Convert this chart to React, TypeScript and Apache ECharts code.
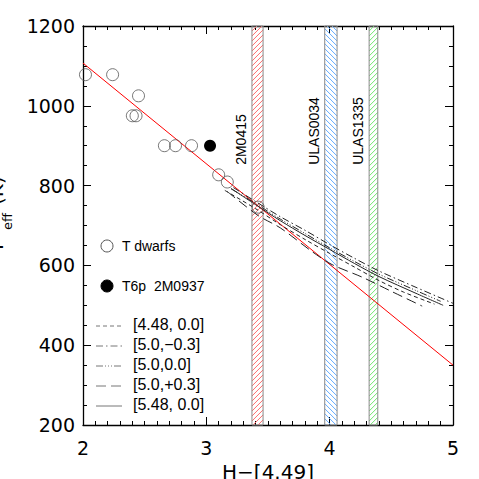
import React, { useEffect, useRef } from "react";
import * as echarts from "echarts";

// ---- data ----
const tDwarfX = [2.02, 2.24, 2.40, 2.43, 2.45, 2.66, 2.75, 2.88, 3.10, 3.17, 3.42];
const tDwarfY = [1078, 1078, 975, 975, 1025, 900, 900, 900, 827, 809, 746];
const t6pX = [3.03];
const t6pY = [900];

const fitX = [2, 5];
const fitY = [1107, 350];

const m448X = [3.15, 3.4, 3.6, 3.8, 4.0, 4.2, 4.4, 4.6, 4.85];
const m448Y = [788, 742, 702, 665, 630, 596, 562, 533, 503];
const m50m03X = [3.22, 3.4, 3.6, 3.8, 4.0, 4.2, 4.4, 4.7, 5.0];
const m50m03Y = [795, 760, 722, 688, 652, 618, 586, 545, 505];
const m50X = [3.2, 3.4, 3.6, 3.8, 4.0, 4.2, 4.4, 4.7, 4.9];
const m50Y = [792, 755, 716, 680, 644, 610, 578, 537, 510];
const m50p03X = [3.17, 3.42, 3.6, 3.86, 4.02, 4.26, 4.5, 4.75];
const m50p03Y = [785, 725, 694, 634, 602, 571, 535, 498];
const m548X = [3.2, 3.4, 3.6, 3.8, 4.0, 4.2, 4.4, 4.7, 4.92];
const m548Y = [793, 752, 712, 675, 640, 605, 572, 530, 500];

const bandNames = ["2M0415", "ULAS0034", "ULAS1335"];
const bandLo = [3.37, 3.96, 4.32];
const bandHi = [3.46, 4.06, 4.39];
const bandLabelT = 852;

const modelNames = ["[4.48, 0.0]", "[5.0,\u22120.3]", "[5.0,0.0]", "[5.0,+0.3]", "[5.48, 0.0]"];

const xTicksMin = 2, xTicksMax = 5;
const yTicksMin = 200, yTicksMax = 1200;

// ---- styles ----
const bandColors = ["#ff7070", "#66adff", "#72e872"];
const bandDirs = [1, -1, 1];
const dashes: (number[] | "solid")[] = [[4, 3], [7, 3, 1.5, 3], [7, 2, 1, 2, 1, 2, 1, 2], [10, 5], "solid"];

const zip = (xs: number[], ys: number[]) => xs.map((x, i) => [x, ys[i]]);

function hatch(x0: number, y0: number, x1: number, y1: number, dir: number, step: number, color: string) {
  const out: any[] = [];
  if (dir > 0) {
    for (let c = x0 + y0; c <= x1 + y1; c += step) {
      const xa = Math.max(x0, c - y1);
      const xb = Math.min(x1, c - y0);
      if (xb > xa) out.push({ type: "line", shape: { x1: xa, y1: c - xa, x2: xb, y2: c - xb }, style: { stroke: color, lineWidth: 1 } });
    }
  } else {
    for (let c = y0 - x1; c <= y1 - x0; c += step) {
      const xa = Math.max(x0, y0 - c);
      const xb = Math.min(x1, y1 - c);
      if (xb > xa) out.push({ type: "line", shape: { x1: xa, y1: xa + c, x2: xb, y2: xb + c }, style: { stroke: color, lineWidth: 1 } });
    }
  }
  return out;
}

export default function App() {
  const ref = useRef<HTMLDivElement>(null);
  useEffect(() => {
    document.body.style.margin = "0";
    const chart = echarts.init(ref.current!, undefined, { renderer: "svg" });
    const axisCommon = {
      axisLine: { show: true, onZero: false, lineStyle: { color: "#000", width: 1.3 } },
      axisTick: { show: true, inside: true, length: 8, lineStyle: { color: "#000", width: 1 } },
      splitLine: { show: false },
      minorSplitLine: { show: false },
    };
    const lbl = { fontSize: 19, fontFamily: "DejaVu Sans", color: "#000", formatter: (v: number) => String(v) };
    const legendY = [326, 346, 366, 386, 406];
    const graphic: any[] = [
      { type: "circle", shape: { cx: 107, cy: 246, r: 6 }, style: { fill: "none", stroke: "#555", lineWidth: 1 } },
      { type: "text", x: 122, y: 246, style: { text: "T dwarfs", fontSize: 14, fontFamily: "Liberation Sans", fill: "#000", textVerticalAlign: "middle" } },
      { type: "circle", shape: { cx: 107, cy: 286, r: 6 }, style: { fill: "#000", stroke: "#000", lineWidth: 1 } },
      { type: "text", x: 122, y: 286, style: { text: "T6p  2M0937", fontSize: 14, fontFamily: "Liberation Sans", fill: "#000", textVerticalAlign: "middle" } },
      // axis titles
      { type: "text", x: 268, y: 462, style: { text: "H\u2212[4.49]", fontSize: 20, fontFamily: "DejaVu Sans", fill: "#000", textAlign: "center", textVerticalAlign: "top" } },
      { type: "text", x: 6, y: 253, rotation: Math.PI / 2, style: { text: "T", fontSize: 20, fontFamily: "DejaVu Sans", fill: "#000", textAlign: "left", textVerticalAlign: "bottom" } },
      { type: "text", x: 14, y: 230, rotation: Math.PI / 2, style: { text: "eff", fontSize: 13, fontFamily: "DejaVu Sans", fill: "#000", textAlign: "left", textVerticalAlign: "bottom" } },
      { type: "text", x: 6, y: 205, rotation: Math.PI / 2, style: { text: "(K)", fontSize: 20, fontFamily: "DejaVu Sans", fill: "#000", textAlign: "left", textVerticalAlign: "bottom" } },
    ];
    modelNames.forEach((n, i) => {
      const d = dashes[i];
      graphic.push({ type: "line", shape: { x1: 96, y1: legendY[i], x2: 122, y2: legendY[i] }, style: { stroke: "#777", lineWidth: 1, lineDash: d === "solid" ? null : d } });
      graphic.push({ type: "text", x: 133, y: legendY[i] - 2, style: { text: n, fontSize: 16, fontFamily: "Liberation Sans", fill: "#000", textVerticalAlign: "middle" } });
    });

    const models = [zip(m448X, m448Y), zip(m50m03X, m50m03Y), zip(m50X, m50Y), zip(m50p03X, m50p03Y), zip(m548X, m548Y)];

    chart.setOption({
      animation: false,
      grid: { left: 83, right: 26, top: 26, bottom: 54 },
      xAxis: [
        { type: "value", min: xTicksMin, max: xTicksMax, interval: 1, position: "bottom", ...axisCommon, minorTick: { show: true, splitNumber: 10, length: 4, lineStyle: { color: "#000" } }, axisLabel: { ...lbl, margin: 13 } },
        { type: "value", min: xTicksMin, max: xTicksMax, interval: 1, position: "top", ...axisCommon, minorTick: { show: true, splitNumber: 10, length: 4, lineStyle: { color: "#000" } }, axisLabel: { show: false } },
      ],
      yAxis: [
        { type: "value", min: yTicksMin, max: yTicksMax, interval: 200, position: "left", ...axisCommon, minorTick: { show: true, splitNumber: 4, length: 4, lineStyle: { color: "#000" } }, axisLabel: { ...lbl, margin: 8 } },
        { type: "value", min: yTicksMin, max: yTicksMax, interval: 200, position: "right", ...axisCommon, minorTick: { show: true, splitNumber: 4, length: 4, lineStyle: { color: "#000" } }, axisLabel: { show: false } },
      ],
      graphic,
      series: [
        {
          type: "custom",
          xAxisIndex: 0,
          yAxisIndex: 0,
          data: bandLo.map((lo, i) => [lo, bandHi[i], i]),
          encode: { x: [0, 1] },
          z: 1,
          renderItem: (params: any, api: any) => {
            const i = api.value(2);
            const p0 = api.coord([api.value(0), yTicksMax]);
            const p1 = api.coord([api.value(1), yTicksMin]);
            const lp = api.coord([api.value(0), bandLabelT]);
            const children = hatch(p0[0], p0[1], p1[0], p1[1], bandDirs[i], 5, bandColors[i]);
            children.push({ type: "rect", shape: { x: p0[0], y: p0[1], width: p1[0] - p0[0], height: p1[1] - p0[1] }, style: { fill: "none", stroke: "#8a8a8a", lineWidth: 1 } });
            children.push({ type: "text", x: lp[0] - 11, y: lp[1], rotation: Math.PI / 2, style: { text: bandNames[i], fontSize: 14, fontFamily: "Liberation Sans", fill: "#000", textAlign: "left", textVerticalAlign: "middle" } });
            return { type: "group", children };
          },
        },
        { type: "line", data: zip(fitX, fitY), symbol: "none", lineStyle: { color: "#ff0000", width: 1 }, z: 3 },
        ...models.map((d, i) => ({ type: "line", data: d, symbol: "none", smooth: 0.3, lineStyle: { color: "#222", width: 1, type: dashes[i] }, z: 4 })),
        { type: "scatter", data: zip(tDwarfX, tDwarfY), symbol: "circle", symbolSize: 12, itemStyle: { color: "rgba(0,0,0,0)", borderColor: "#555", borderWidth: 1 }, z: 5 },
        { type: "scatter", data: zip(t6pX, t6pY), symbol: "circle", symbolSize: 12, itemStyle: { color: "#000", opacity: 1 }, z: 5 },
      ],
    });
    return () => chart.dispose();
  }, []);
  return <div ref={ref} style={{ width: 479, height: 479 }} />;
}
